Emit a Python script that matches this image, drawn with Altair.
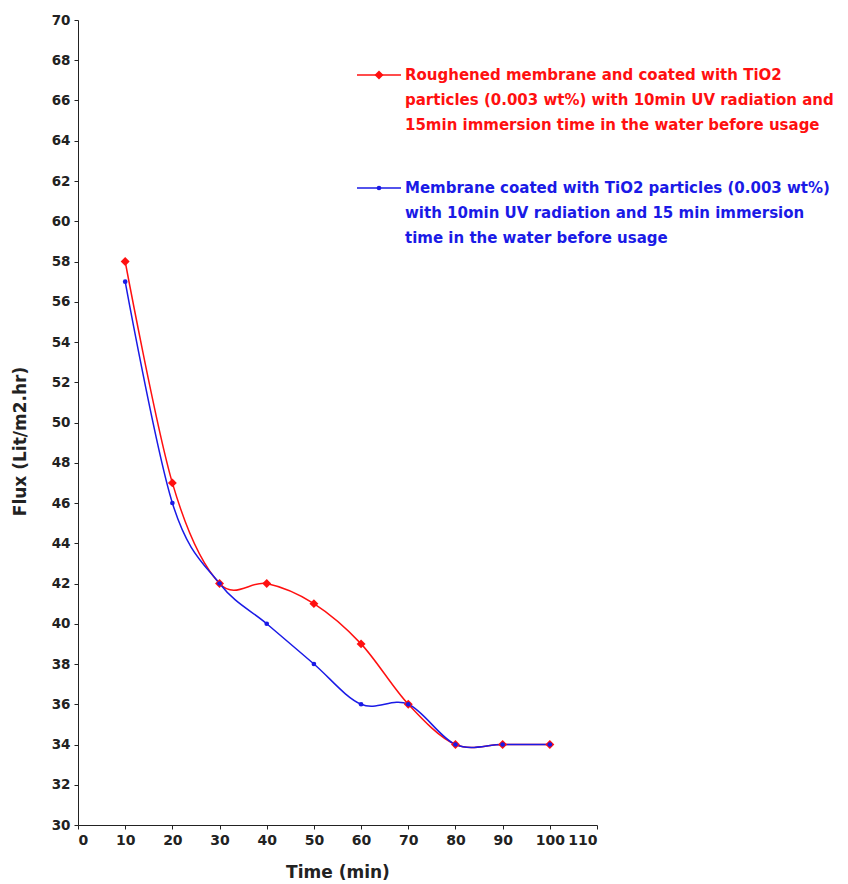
import altair as alt
import pandas as pd

time = [10, 20, 30, 40, 50, 60, 70, 80, 90, 100]
red_flux = [58, 47, 42, 42, 41, 39, 36, 34, 34, 34]
blue_flux = [57, 46, 42, 40, 38, 36, 36, 34, 34, 34]

red_label = ["Roughened membrane and coated with TiO2",
             "particles (0.003 wt%) with 10min UV radiation and",
             "15min immersion time in the water before usage"]
blue_label = ["Membrane coated with TiO2 particles (0.003 wt%)",
              "with 10min UV radiation and 15 min immersion",
              "time in the water before usage"]

RED = "#ff1010"
BLUE = "#1a1ae6"
FONT = "DejaVu Sans"
INK = "#222222"

red_df = pd.DataFrame({"t": time, "f": red_flux})
blue_df = pd.DataFrame({"t": time, "f": blue_flux})

x = alt.X("t:Q", scale=alt.Scale(domain=[0, 110], nice=False),
          axis=alt.Axis(values=list(range(0, 111, 10)), title="Time (min)", grid=False,
                        labelFont=FONT, labelFontWeight="bold", labelFontSize=14, labelColor=INK,
                        titleFont=FONT, titleFontWeight="bold", titleFontSize=17, titleColor=INK,
                        domainColor=INK, tickColor=INK, tickSize=4, labelPadding=4, titlePadding=17))
y = alt.Y("f:Q", scale=alt.Scale(domain=[30, 70], nice=False),
          axis=alt.Axis(values=list(range(30, 71, 2)), title="Flux  (Lit/m2.hr)", grid=False,
                        labelFont=FONT, labelFontWeight="bold", labelFontSize=13.5, labelColor=INK,
                        titleFont=FONT, titleFontWeight="bold", titleFontSize=17, titleColor=INK,
                        titleY=421,
                        domainColor=INK, tickColor=INK, tickSize=4, labelPadding=4, titlePadding=22))

blue_line = alt.Chart(blue_df).mark_line(color=BLUE, strokeWidth=1.5, interpolate="cardinal").encode(x=x, y=y)
blue_pts = alt.Chart(blue_df).mark_point(color=BLUE, filled=True, size=22, opacity=1, shape="circle").encode(x=x, y=y)
red_line = alt.Chart(red_df).mark_line(color=RED, strokeWidth=1.5, interpolate="cardinal").encode(x=x, y=y)
red_pts = alt.Chart(red_df).mark_point(color=RED, filled=True, size=80, opacity=1, shape="diamond").encode(x=x, y=y)

def legend(lines, color, y0, marker, msize):
    df = pd.DataFrame({"txt": [lines]})
    txt = alt.Chart(df).mark_text(align="left", baseline="middle", font=FONT, fontWeight="bold",
                                  fontSize=15, color=color, lineHeight=25).encode(
        text="txt:N", x=alt.value(327), y=alt.value(y0))
    rule = alt.Chart(df).mark_rule(color=color, strokeWidth=1.5).encode(
        x=alt.value(279), x2=alt.value(323), y=alt.value(y0))
    pt = alt.Chart(df).mark_point(color=color, filled=True, opacity=1, shape=marker, size=msize).encode(
        x=alt.value(301), y=alt.value(y0))
    return rule + pt + txt

chart = alt.layer(
    red_line, blue_line, red_pts, blue_pts,
    legend(red_label, RED, 55, "diamond", 80),
    legend(blue_label, BLUE, 168, "circle", 22),
).properties(
    width=519, height=805,
    background="white",
    padding={"left": 78, "top": 20, "right": 251, "bottom": 59},
    autosize=alt.AutoSizeParams(type="none"),
).configure_view(strokeWidth=0)

chart.save("out.html", embed_options={"renderer": "svg", "actions": False})
